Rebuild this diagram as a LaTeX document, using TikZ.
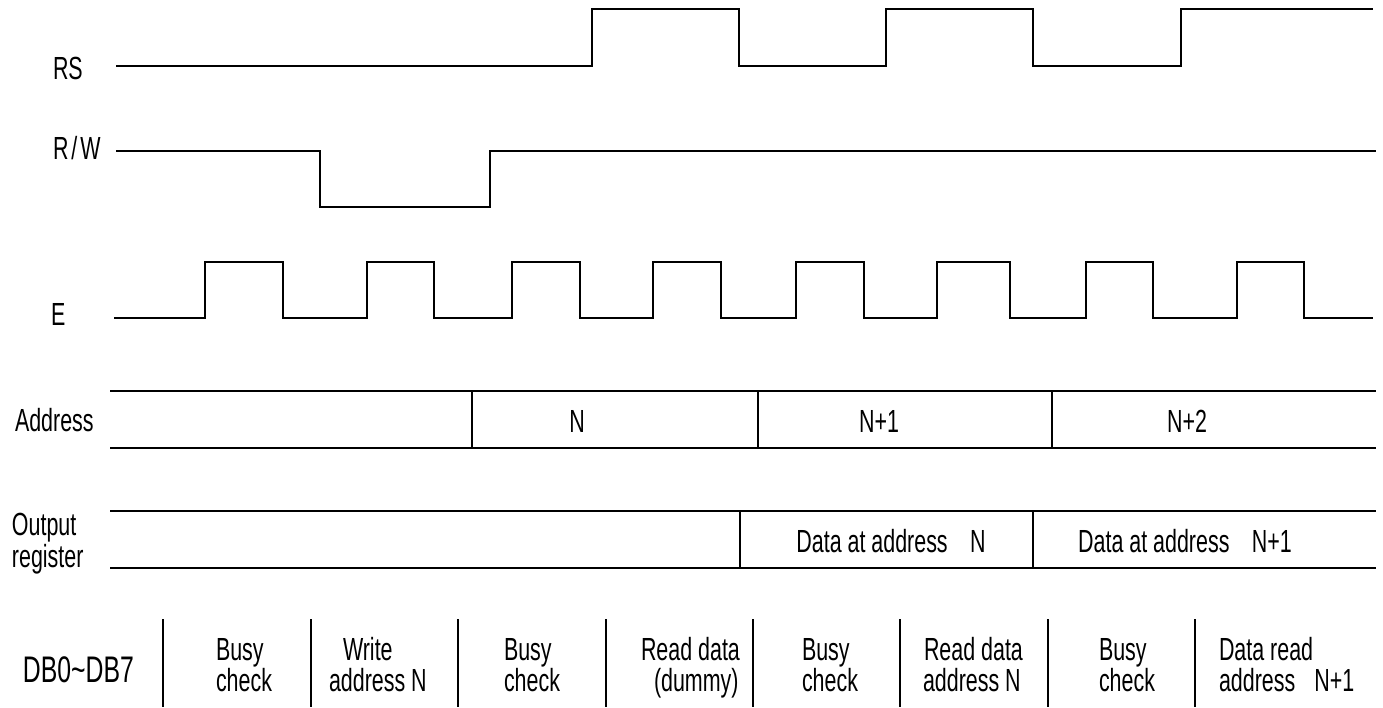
\documentclass[tikz,border=0pt]{standalone}
\usepackage{fontspec}
\setmainfont{Liberation Sans}[FakeStretch=0.67]
\begin{document}
\begin{tikzpicture}[x=1pt,y=-1pt,
  sig/.style={line width=1.2pt, line cap=butt, line join=miter},
  txt/.style={inner sep=0pt, outer sep=0pt, font=\fontsize{32}{30}\selectfont},
  lw/.style={txt, anchor=base west},
  lc/.style={txt, anchor=base}]
\useasboundingbox (0,0) rectangle (1383,707);

% signal names
\node[lw] (lRS) at (53,79) {RS};
\node[lw] (lRW) at (53,159) {R\kern3pt/\kern3pt W};
\node[lw] (lE) at (51,325) {E};
\node[lw] (lAddr) at (15,431) {Address};
\node[lw] (lOut1) at (12,535) {Output};
\node[lw] (lOut2) at (12,567) {register};
\node[lw, font=\fontsize{37}{40}\selectfont] (lDB) at (23,682) {DB0\textasciitilde DB7};

% RS
\draw[sig] (116,66) -| (592,9) -| (739,66) -| (886,9) -| (1033,66) -| (1181,9) -- (1373,9);
% R/W
\draw[sig] (116,151) -| (320,207) -| (490,151) -- (1376,151);
% E
\draw[sig] (114,318) -| (205,262) -| (283,318) -| (367,262) -| (434,318)
  -| (512,262) -| (580,318) -| (653,262) -| (721,318) -| (796,262)
  -| (864,318) -| (937,262) -| (1010,318) -| (1086,262) -| (1153,318)
  -| (1237,262) -| (1304,318) -- (1373,318);

% Address bus
\draw[sig] (110,391) -- (1376,391);
\draw[sig] (110,448) -- (1376,448);
\foreach \x in {472,758,1052} \draw[sig] (\x,391) -- (\x,448);
\node[lc] (aN) at (577,432) {N};
\node[lc] (aN1) at (879,432) {N+1};
\node[lc] (aN2) at (1187,432) {N+2};

% Output register
\draw[sig] (110,511) -- (1376,511);
\draw[sig] (110,568) -- (1376,568);
\foreach \x in {740,1033} \draw[sig] (\x,511) -- (\x,568);
\node[lc] (oN) at (891,552) {Data at address\hspace{0.7em}N};
\node[lc] (oN1) at (1185,552) {Data at address\hspace{0.7em}N+1};

% DB0~DB7
\foreach \x in {163,311,458,606,753,900,1048,1195} \draw[sig] (\x,619) -- (\x,707);
\node[lw] (b1a) at (216,660) {Busy};
\node[lw] (b1b) at (216,691) {check};
\node[lw] (w1a) at (343,660) {Write};
\node[lw] (w1b) at (329,691) {address N};
\node[lw] (b2a) at (504,660) {Busy};
\node[lw] (b2b) at (504,691) {check};
\node[lw] (r1a) at (641,660) {Read data};
\node[lw] (r1b) at (654,691) {(dummy)};
\node[lw] (b3a) at (802,660) {Busy};
\node[lw] (b3b) at (802,691) {check};
\node[lw] (r2a) at (924,660) {Read data};
\node[lw] (r2b) at (923,691) {address N};
\node[lw] (b4a) at (1099,660) {Busy};
\node[lw] (b4b) at (1099,691) {check};
\node[lw] (d1a) at (1219,660) {Data read};
\node[lw] (d1b) at (1219,691) {address\hspace{0.6em}N+1};
\end{tikzpicture}
\end{document}
